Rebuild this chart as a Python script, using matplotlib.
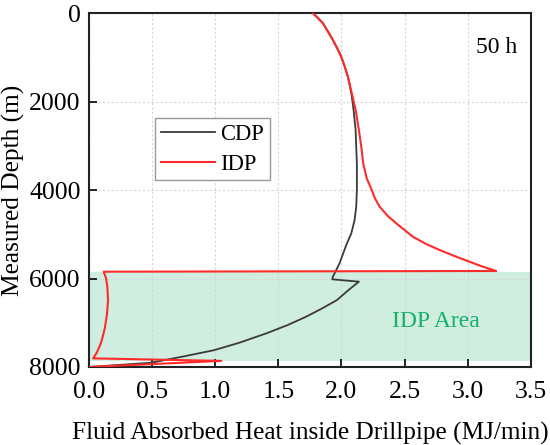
import numpy as np
import matplotlib
matplotlib.use('Agg')
import matplotlib.pyplot as plt

# Data
#####################
cdpDepth = [0, 113, 226, 415, 604, 792, 982, 1208, 1434, 1622, 1810, 2000, 2187, 2640, 3017,
            3393, 3997, 4375, 4676, 4977, 5241, 5655, 5958, 6017, 6071, 6250, 6485, 6670,
            6863, 7050, 7239, 7452, 7620, 7760, 7903, 8000]
cdpHeat = [1.774, 1.814, 1.853, 1.893, 1.932, 1.966, 1.998, 2.026, 2.051, 2.065, 2.078, 2.087, 2.096, 2.112, 2.117,
           2.122, 2.122, 2.117, 2.104, 2.078, 2.038, 1.985, 1.932, 1.927, 2.138, 2.060, 1.965, 1.850,
           1.720, 1.575, 1.405, 1.190, 0.990, 0.750, 0.494, 0.0]

idpDepth = [0, 113, 226, 415, 604, 792, 982, 1208, 1434, 1622, 1810, 2000, 2187, 2640, 3017,
            3393, 3733, 3997, 4185, 4375, 4585, 4750, 5053, 5219, 5354, 5506, 5619, 5732, 5829,
            5845, 6000, 6200, 6485, 6800, 7130, 7400, 7530, 7680, 7805, 7862, 8000]
idpHeat = [1.774, 1.814, 1.853, 1.893, 1.932, 1.966, 1.998, 2.026, 2.051, 2.066, 2.082, 2.097, 2.112, 2.138, 2.157,
           2.172, 2.200, 2.240, 2.265, 2.302, 2.367, 2.434, 2.565, 2.671, 2.777, 2.909, 3.014, 3.120, 3.226,
           0.116, 0.135, 0.145, 0.150, 0.142, 0.124, 0.100, 0.084, 0.060, 0.032, 1.048, 0.0]

idpAreaTop = 5850
idpAreaBottom = 7860

xTicks = [0.0, 0.5, 1.0, 1.5, 2.0, 2.5, 3.0, 3.5]
yTicks = [0, 2000, 4000, 6000, 8000]

# Plot
#####################
plt.rcParams['font.family'] = ['Liberation Serif', 'DejaVu Serif']

fig = plt.figure(figsize=(5.5, 4.45), dpi=100)
ax = fig.add_axes([0.162, 0.1753, 0.803, 0.795])

ax.axhspan(idpAreaTop, idpAreaBottom, color='#cfeee0', zorder=1, lw=0)
ax.plot(cdpHeat, cdpDepth, color='#3a3a3a', lw=1.3, label='CDP', zorder=3)
ax.plot(idpHeat, idpDepth, color='#ff2b2b', lw=1.5, label='IDP', zorder=4)

ax.set_xlim(0, 3.5)
ax.set_ylim(8000, 0)
ax.set_xticks(xTicks)
ax.set_xticklabels(['%.1f' % t for t in xTicks])
ax.set_yticks(yTicks)
ax.grid(True, color='#d5d5d5', linestyle=(0, (2, 2)), lw=0.8, zorder=1.5)

ax.tick_params(direction='in', length=6, width=1.2, labelsize=18.5)
ax.tick_params(axis='x', pad=10)
ax.tick_params(axis='y', pad=6)
for s in ax.spines.values():
    s.set_linewidth(1.5)
    s.set_color('#222222')

ax.set_xlabel('Fluid Absorbed Heat inside Drillpipe (MJ/min)', fontsize=18.2, labelpad=14)
ax.set_ylabel('Measured Depth (m)', fontsize=18.3, labelpad=3)

ax.text(0.922, 0.902, '50 h', transform=ax.transAxes, ha='center', va='center', fontsize=17)
ax.text(0.785, 0.128, 'IDP Area', transform=ax.transAxes, ha='center', va='center',
        fontsize=17, color='#16b06a')

leg = ax.legend(loc='upper left', bbox_to_anchor=(0.149, 0.704), fontsize=16.3,
                fancybox=False, edgecolor='#999999', framealpha=1, handlelength=2.4,
                borderpad=0.25, labelspacing=0.4, handletextpad=0.25, borderaxespad=0)
leg.get_frame().set_linewidth(1.0)

plt.savefig('out.png', dpi=100)
